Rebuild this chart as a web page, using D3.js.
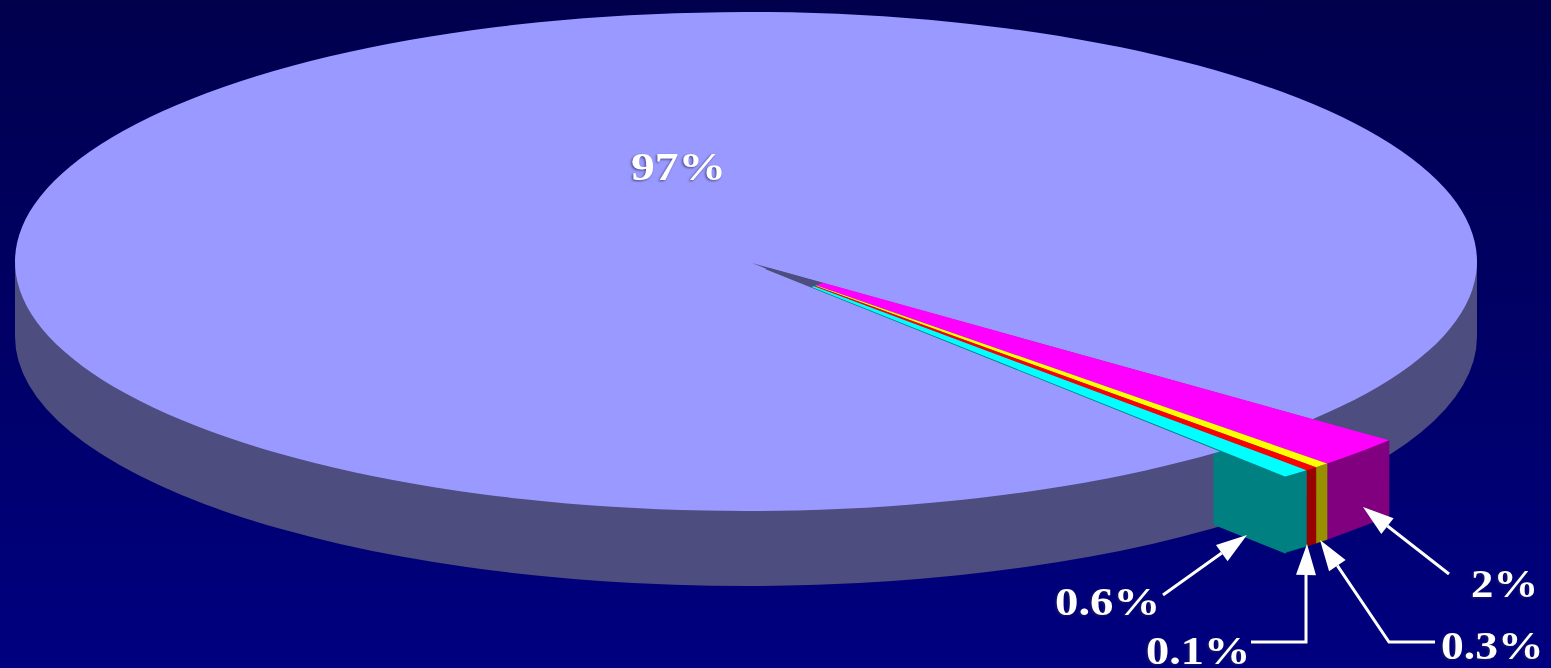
<!DOCTYPE html>
<html lang="en">
<head>
<meta charset="utf-8">
<title>Pie chart</title>
<script src="https://d3js.org/d3.v7.min.js"></script>
<style>
  html, body { margin: 0; padding: 0; background: #000060; overflow: hidden; }
  svg { display: block; }
  text { font-family: "Liberation Serif", serif; font-weight: bold; fill: #fff; }
</style>
</head>
<body>
<script>
// values as labelled on the slide
const labelValues = [2, 0.3, 0.1, 0.6, 97];
// share of the circle each slice actually sweeps in the picture (red is drawn wider than 0.1%)
const drawnShares = [1.78, 0.30, 0.25, 0.55, 97.12];
const topColors = ["#ff00ff", "#ffff00", "#ff0000", "#00ffff", "#9999ff"];
const sideColors = ["#800080", "#999000", "#990000", "#008080", "#4d4d7f"];

const w = 1551, h = 668;
const cx = 746, cy = 261.5, rx = 731, ry = 249.5;
const depth = 75;
const apex = [752, 263];       // tip of the pulled out wedge
const wedgeR = 822, tipR = 92;
const wallFrom = 0.867;        // the cut wall only shows past the disc rim
const flat = ry / rx;
const rad = d => d * Math.PI / 180;

const svg = d3.select("body").append("svg").attr("width", w).attr("height", h)
  .style("filter", "blur(0.5px)");

const grad = svg.append("defs").append("linearGradient")
  .attr("id", "bg").attr("x1", 0).attr("y1", 0).attr("x2", 0).attr("y2", 1);
grad.append("stop").attr("offset", 0).attr("stop-color", "#00004d");
grad.append("stop").attr("offset", 1).attr("stop-color", "#000080");
svg.append("rect").attr("width", w).attr("height", h).attr("fill", "url(#bg)");

const startAngle = rad(39.2 + 90);
const slices = d3.pie().sort(null).startAngle(startAngle).endAngle(startAngle + 2 * Math.PI)(drawnShares);
const wedge = slices.slice(0, 4);
const disc = slices[4];

// screen position of a point of the wedge, r is a fraction of its radius
function rim(angle, dy, r = 1) {
  return [
    apex[0] + r * wedgeR * Math.sin(angle),
    apex[1] - r * wedgeR * flat * Math.cos(angle) + dy
  ];
}

// disc side
const whole = d3.arc().innerRadius(0).outerRadius(rx).startAngle(0).endAngle(2 * Math.PI);
svg.append("path").attr("d", whole())
  .attr("transform", `translate(${cx},${cy + depth}) scale(1,${flat})`)
  .attr("fill", sideColors[4]);
svg.append("rect").attr("x", cx - rx).attr("y", cy).attr("width", 2 * rx).attr("height", depth)
  .attr("fill", sideColors[4]);

// cut wall of the wedge, its top runs under the disc
const lastAngle = wedge[3].endAngle;
svg.append("path")
  .attr("d", d3.line()([
    rim(lastAngle, 0, wallFrom), rim(lastAngle, 0),
    rim(lastAngle, depth + 1), rim(lastAngle, depth + 1, wallFrom)
  ]) + "Z")
  .attr("fill", sideColors[3])
  .attr("stroke", sideColors[3]).attr("stroke-width", 1.5);
svg.append("path")
  .attr("d", d3.line()([rim(lastAngle, 0.8, 0.12), rim(lastAngle, 0.8, wallFrom + 0.01)]))
  .attr("stroke", sideColors[3]).attr("stroke-width", 2.5).attr("fill", "none");

// disc top, with the centre closed so the tip starts at the apex
const discArc = d3.arc().innerRadius(0).outerRadius(rx);
const discGroup = svg.append("g").attr("transform", `translate(${cx},${cy}) scale(1,${flat})`);
discGroup.append("path").attr("d", discArc(disc)).attr("fill", topColors[4]);
discGroup.append("path")
  .attr("d", d3.arc().innerRadius(0).outerRadius(30).startAngle(0).endAngle(2 * Math.PI)())
  .attr("fill", topColors[4]);

// wedge rim faces
svg.selectAll(".rimFace").data(wedge).join("path")
  .attr("class", "rimFace")
  .attr("d", d => d3.line()([
    rim(d.startAngle, 0), rim(d.endAngle, 0),
    rim(d.endAngle, depth + 1), rim(d.startAngle, depth + 1)
  ]) + "Z")
  .attr("fill", (d, i) => sideColors[i])
  .attr("stroke", (d, i) => sideColors[i]).attr("stroke-width", 0.6);

// dark tip, then the coloured top faces
const wedgeGroup = svg.append("g").attr("transform", `translate(${apex[0]},${apex[1]}) scale(1,${flat})`);
wedgeGroup.append("path")
  .attr("d", d3.arc().innerRadius(0).outerRadius(tipR + 2)
    .startAngle(wedge[0].startAngle).endAngle(lastAngle)())
  .attr("fill", sideColors[4]);
const wedgeArc = d3.arc().innerRadius(tipR).outerRadius(wedgeR);
wedgeGroup.selectAll(".topFace").data(wedge).join("path")
  .attr("class", "topFace")
  .attr("d", wedgeArc)
  .attr("fill", (d, i) => topColors[i]);

// leader lines with arrow heads
function arrow(points) {
  const tip = points[points.length - 1];
  const prev = points[points.length - 2];
  const a = Math.atan2(tip[1] - prev[1], tip[0] - prev[0]);
  const len = 31, half = 10;
  const bx = tip[0] - len * Math.cos(a), by = tip[1] - len * Math.sin(a);
  const nx = -Math.sin(a) * half, ny = Math.cos(a) * half;
  svg.append("path")
    .attr("d", d3.line()(points.slice(0, -1).concat([[bx, by]])))
    .attr("fill", "none").attr("stroke", "#fff").attr("stroke-width", 3);
  svg.append("path")
    .attr("d", d3.line()([tip, [bx + nx, by + ny], [bx - nx, by - ny]]) + "Z")
    .attr("fill", "#fff");
}
arrow([[1449, 574], [1363, 507]]);
arrow([[1435, 642], [1389, 642], [1320, 540]]);
arrow([[1251, 642], [1306, 642], [1306, 575], [1307, 544]]);
arrow([[1163, 595], [1247, 535]]);

// labels, stretched sideways like the slide
const fmt = v => v + "%";
function label(value, x, y, size, sx) {
  svg.append("text")
    .attr("transform", `translate(${x},${y}) scale(${sx},1)`)
    .attr("font-size", size)
    .style("filter", "drop-shadow(-1px 1px 1px rgba(40,40,90,0.7))")
    .text(fmt(value));
}
label(labelValues[4], 631, 180, 41, 1.16);
label(labelValues[0], 1471, 597, 40, 1.12);
label(labelValues[1], 1441, 659, 40, 1.14);
label(labelValues[2], 1146, 664, 40, 1.16);
label(labelValues[3], 1055, 615, 40, 1.17);
</script>
</body>
</html>
